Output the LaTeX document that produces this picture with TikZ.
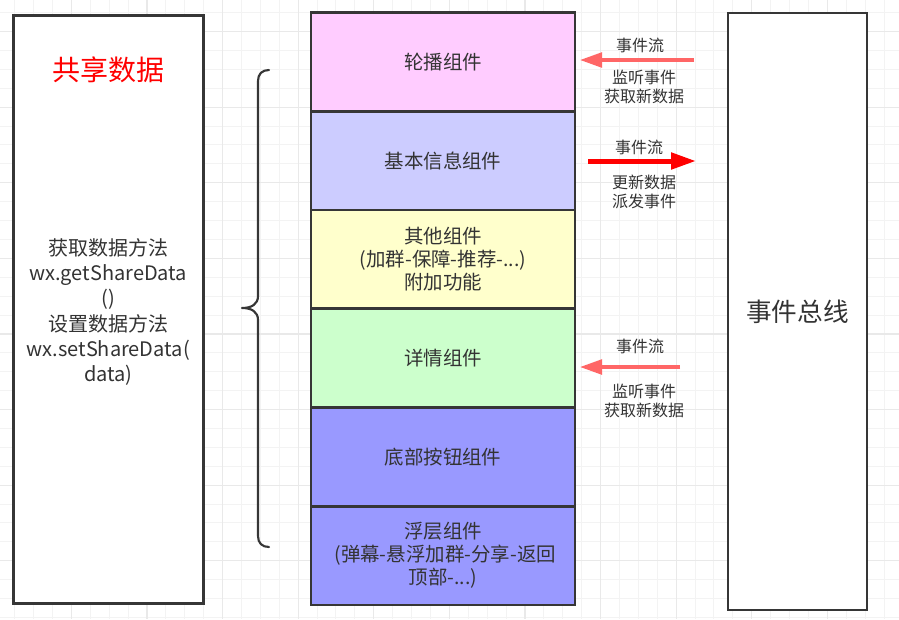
\documentclass[tikz,border=0pt]{standalone}
\usepackage{fontspec}
\setmainfont{Noto Sans CJK SC}
\usetikzlibrary{arrows.meta}
\definecolor{ink}{HTML}{333333}
\definecolor{edge}{HTML}{363636}
\definecolor{gridminor}{HTML}{F3F3F3}
\definecolor{gridmajor}{HTML}{E9E9E9}
\definecolor{cPink}{HTML}{FFCCFF}
\definecolor{cLav}{HTML}{CCCCFF}
\definecolor{cYel}{HTML}{FFFFCC}
\definecolor{cGrn}{HTML}{CCFFCC}
\definecolor{cBlu}{HTML}{9999FF}
\definecolor{lightred}{HTML}{FF6666}
\begin{document}
\begin{tikzpicture}[x=0.75pt,y=-0.75pt,
  bigbox/.style={draw=edge,line width=2pt,fill=white,inner sep=0pt},
  seg/.style={draw=edge,line width=2pt,inner sep=0pt,minimum width=198pt,minimum height=74pt,
    text=ink,align=center,font=\fontsize{14.6}{17.25}\selectfont},
  lbl/.style={text=ink,align=center,inner sep=0pt,font=\fontsize{12}{14.8}\selectfont},
  flowL/.style={draw=lightred,line width=2.5pt,-{Triangle[length=16.5pt,width=11pt]}},
  flowR/.style={draw=red,line width=3.75pt,-{Triangle[length=18.75pt,width=12pt]}},
  bracestyle/.style={draw=edge,line width=1.6pt,line cap=round,line join=round}
]
\useasboundingbox (0,0) rectangle (899,619);
\fill[white] (0,0) rectangle (899,619);
% grid
\foreach \i in {0,...,47} {\draw[gridminor,line width=0.75pt] ({14.6+18.9*\i},0) -- ({14.6+18.9*\i},619);}
\foreach \i in {0,...,32} {\draw[gridminor,line width=0.75pt] (0,{12.6+18.9*\i}) -- (899,{12.6+18.9*\i});}
\foreach \i in {0,...,11} {\draw[gridmajor,line width=0.9pt] ({71.3+75.6*\i},0) -- ({71.3+75.6*\i},619);}
\foreach \i in {0,...,8} {\draw[gridmajor,line width=0.9pt] (0,{31.5+75.6*\i}) -- (899,{31.5+75.6*\i});}

% left box
\node[bigbox,minimum width=142.5pt,minimum height=440.7pt] (shared) at (108.3,309.5) {};
\node[text=red,inner sep=0pt,font=\fontsize{21}{25}\selectfont] (title) at (108.3,70) {共享数据};
\node[text=ink,align=center,inner sep=0pt,font=\fontsize{15}{18.9}\selectfont] (methods) at (108.3,312)
  {获取数据方法\\wx.getShareData\\()\\设置数据方法\\wx.setShareData(\\data)};

% brace
\draw[bracestyle] (269,70) .. controls (262,70) and (258,74) .. (258,81) -- (258,296)
  .. controls (258,304) and (252,308) .. (242,308)
  .. controls (252,308) and (258,312) .. (258,320) -- (258,536)
  .. controls (258,543) and (262,547) .. (269,547);

% middle stack
\node[seg,fill=cPink] (s1) at (443,62.05) {轮播组件};
\node[seg,fill=cLav] (s2) at (443,160.75) {基本信息组件};
\node[seg,fill=cYel] (s3) at (443,259.45) {其他组件\\(加群-保障-推荐-...)\\附加功能};
\node[seg,fill=cGrn] (s4) at (443,358.15) {详情组件};
\node[seg,fill=cBlu] (s5) at (443,456.85) {底部按钮组件};
\node[seg,fill=cBlu] (s6) at (443,555.55) {浮层组件\\\ (弹幕-悬浮加群-分享-返回\\顶部-...)};

% right box
\node[bigbox,minimum width=104.25pt,minimum height=447.75pt,text=ink,font=\fontsize{19.2}{23}\selectfont] (bus) at (797.5,311.5) {事件总线};

% arrows
\coordinate (a1s) at (694,60);
\coordinate (a1e) at (580,60);
\draw[flowL] (a1s) -- (a1e);
\node[lbl] (l1a) at (640,45) {事件流};
\node[lbl] (l1b) at (644,87) {监听事件\\获取新数据};

\coordinate (a2s) at (588,161);
\coordinate (a2e) at (696,161);
\draw[flowR] (a2s) -- (a2e);
\node[lbl] (l2a) at (639,147) {事件流};
\node[lbl] (l2b) at (644,192) {更新数据\\派发事件};

\coordinate (a3s) at (680,367);
\coordinate (a3e) at (580,367);
\draw[flowL] (a3s) -- (a3e);
\node[lbl] (l3a) at (640,346) {事件流};
\node[lbl] (l3b) at (644,401) {监听事件\\获取新数据};
\end{tikzpicture}
\end{document}
